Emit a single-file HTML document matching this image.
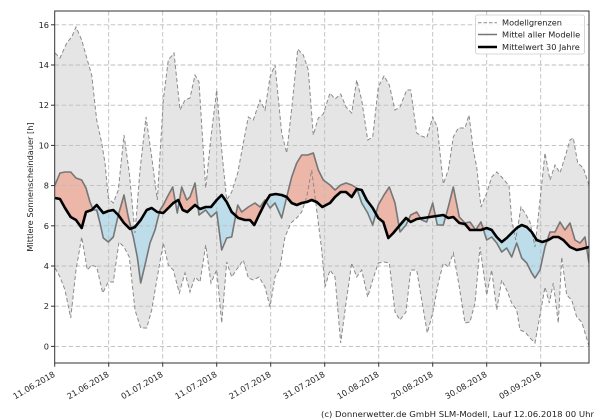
<!DOCTYPE html>
<html><head><meta charset="utf-8"><style>
html,body{margin:0;padding:0;background:#fff;}
svg{display:block;}
text{font-family:"DejaVu Sans","Liberation Sans",sans-serif;fill:#222;}
</style></head><body>
<svg width="600" height="420" viewBox="0 0 600 420" xmlns="http://www.w3.org/2000/svg">
<defs>
<clipPath id="plot"><rect x="54.7" y="11" width="534.3" height="352"/></clipPath>
<clipPath id="above"><polygon points="55,198 60,199 65,208 70.7,217 76,220 81.7,228 86,212 91.7,210 96.7,205 103.3,213 108.3,211 113.3,210 118.3,215 124,223 130,229 135,227 140.7,220 146.7,210 151.7,208 157.3,212 163.3,213 168.3,208 173.3,203 178.3,200 182.7,210 187.3,212 195,205 200,209 205.7,207 211,207 216.7,200 221.7,195 226.7,202 231.7,212 238.3,218 245,220 250,220 254.3,225 259,215 265,203 270,195 275.7,194 281.7,195 286.7,197 291.7,203 296.7,205 301.7,203 306.7,202 311.7,200 316.7,202 322.3,207 330,203 335,197 340.7,192 346,192 351.7,197 356.7,189 361.7,190 366.7,200 372.7,208 378.3,218 383.3,222 388.3,238 393.3,233 400,225 406,218 410.7,222 416.7,219 423.3,218 430,217 436.7,216 443.3,215 448.3,218 453.3,217 459.3,223 465,224 470,230 475.7,230 481,230 486.7,228 491.7,230 496.7,237 501.7,242 506.7,238 511.7,233 516.7,228 521.7,225 526.7,227 531.7,232 536.7,240 542.3,242 548.3,240 553.3,237 558.3,237 563.3,240 570,247 576.7,250 581.7,249 589,247 589,0 55,0"/></clipPath>
<clipPath id="below"><polygon points="55,198 60,199 65,208 70.7,217 76,220 81.7,228 86,212 91.7,210 96.7,205 103.3,213 108.3,211 113.3,210 118.3,215 124,223 130,229 135,227 140.7,220 146.7,210 151.7,208 157.3,212 163.3,213 168.3,208 173.3,203 178.3,200 182.7,210 187.3,212 195,205 200,209 205.7,207 211,207 216.7,200 221.7,195 226.7,202 231.7,212 238.3,218 245,220 250,220 254.3,225 259,215 265,203 270,195 275.7,194 281.7,195 286.7,197 291.7,203 296.7,205 301.7,203 306.7,202 311.7,200 316.7,202 322.3,207 330,203 335,197 340.7,192 346,192 351.7,197 356.7,189 361.7,190 366.7,200 372.7,208 378.3,218 383.3,222 388.3,238 393.3,233 400,225 406,218 410.7,222 416.7,219 423.3,218 430,217 436.7,216 443.3,215 448.3,218 453.3,217 459.3,223 465,224 470,230 475.7,230 481,230 486.7,228 491.7,230 496.7,237 501.7,242 506.7,238 511.7,233 516.7,228 521.7,225 526.7,227 531.7,232 536.7,240 542.3,242 548.3,240 553.3,237 558.3,237 563.3,240 570,247 576.7,250 581.7,249 589,247 589,420 55,420"/></clipPath>
</defs>

<g clip-path="url(#plot)">
<!-- band -->
<polygon fill="#e5e5e5" points="55,53 60,58 66.7,43 71.7,37 76,27 81.7,40 87.3,60 91.7,75 96.7,120 101.7,143 105,163 108.3,198 113.3,203 118.3,190 124,135 129.3,173 135,233 140,170 146,117 151.7,157 157.3,200 163.3,100 168.3,60 174,53 180,110 185,100 190,98 195,75 199,82 205.7,188 211,137 216.7,90 221.7,150 226.7,200 231.7,192 237.7,173 243.3,143 248.3,117 253.3,120 260,100 265,110 270,77 275,65 281.7,133 286.7,153 292.3,103 297.7,49 303.3,55 308.3,70 313.3,135 318.3,118 323.3,114 330,93 335,99 340.7,94 346,107 351.7,113 356.7,80 361.7,100 367.7,140 372.7,137 378.3,87 384,76 389.3,85 395,110 400,107 406.7,90 410.7,90 416.7,133 421.7,136 426.7,138 432.7,117 437.3,127 443.3,184 448.3,170 453.3,137 458.3,128 465,128 469,115 473.3,150 476.7,167 481,207 486.7,193 491.7,177 496.7,172 501.7,177 506.7,183 509,185 511.7,220 515.7,240 521,207 525,213 530,222 535,247 540,200 545,153 550,180 555,165 560,173 565,157 570,140 573.3,138 577.7,163 583.3,168 589,185 589,346 581.7,322 576.7,317 571.7,300 566.7,295 561.7,257 558.3,323 553.3,283 549.3,303 545,287 540,315 535,343 530,338 525,332 520,330 516.7,310 511.7,303 506.7,290 501.7,280 496.7,310 491.7,270 486.7,295 480,247 475,303 470,322 465,323 459.3,287 453.3,253 448.3,267 443.3,263 438.3,283 432.7,313 427.3,333 421.7,300 416.7,270 410.7,270 406,312 400,320 395,312 389.3,263 384,262 378.3,263 372.7,280 367.7,297 361.7,270 356.7,277 351.7,263 346,303 340.7,343 335,277 330,270 325,287 321.7,250 316.7,210 311.7,170 306.7,197 301.7,212 296.7,218 291,223 285,237 280,267 275,277 270,307 265,287 259,277 253.3,280 248.3,278 243.3,260 237.7,268 231.7,277 226.7,262 221.7,323 216.7,270 211,283 205.7,245 200,282 195,277 190,292 185,273 179.3,293 173.3,270 168.3,265 163.3,243 157.3,277 151.7,310 146.7,328 140.7,328 135,310 129.3,257 124,247 119,242 113.3,282 108.3,282 102.7,293 96.7,267 91.7,265 87.3,270 81.7,237 76,270 70.7,318 65,290 60,277 55,268"/>

<!-- diff fills -->
<g id="diff">
<polygon clip-path="url(#above)" fill="#ecb6a9" points="55,185 60,173 65,172 70.7,172 76,178 81.7,180 86,188 90,202 93.3,210 96.7,210 100,223 103.3,238 108.3,242 113.3,237 118.3,215 124,195 128.3,217 133.3,237 137.3,257 140.7,283 145,265 150,243 155,230 160,210 163.3,205 167.3,197 172.7,187 177.3,213 181.7,187 186.7,200 190,197 195,183 199,215 205.7,210 211,217 216.7,212 221.7,250 226.7,238 231.7,237 237.7,205 241.7,212 248.3,207 255,203 260,207 265,200 270,208 275,203 281.7,218 286.7,197 291.7,177 296.7,163 301.7,155 307.7,155 313.3,153 318.3,170 323.3,180 330,185 335,190 340.7,185 346,183 351.7,185 356.7,188 361.7,203 367.7,213 372.7,225 378.3,205 384,195 389.3,187 395,203 400,232 406,225 410.7,215 416.7,212 421.7,220 426.7,222 432.7,203 437.3,225 443.3,225 448.3,207 453.3,187 459.3,217 465,223 470,222 475.7,230 481,222 486.7,240 491.7,237 496.7,243 501.7,252 506.7,248 511.7,257 516.7,243 521.7,258 526.7,263 531.7,273 535,278 540,270 545,247 550,232 555,232 560,222 565,230 570,223 575,240 580,243 585,237 589,263 589,247 581.7,249 576.7,250 570,247 563.3,240 558.3,237 553.3,237 548.3,240 542.3,242 536.7,240 531.7,232 526.7,227 521.7,225 516.7,228 511.7,233 506.7,238 501.7,242 496.7,237 491.7,230 486.7,228 481,230 475.7,230 470,230 465,224 459.3,223 453.3,217 448.3,218 443.3,215 436.7,216 430,217 423.3,218 416.7,219 410.7,222 406,218 400,225 393.3,233 388.3,238 383.3,222 378.3,218 372.7,208 366.7,200 361.7,190 356.7,189 351.7,197 346,192 340.7,192 335,197 330,203 322.3,207 316.7,202 311.7,200 306.7,202 301.7,203 296.7,205 291.7,203 286.7,197 281.7,195 275.7,194 270,195 265,203 259,215 254.3,225 250,220 245,220 238.3,218 231.7,212 226.7,202 221.7,195 216.7,200 211,207 205.7,207 200,209 195,205 187.3,212 182.7,210 178.3,200 173.3,203 168.3,208 163.3,213 157.3,212 151.7,208 146.7,210 140.7,220 135,227 130,229 124,223 118.3,215 113.3,210 108.3,211 103.3,213 96.7,205 91.7,210 86,212 81.7,228 76,220 70.7,217 65,208 60,199 55,198"/>
<polygon clip-path="url(#below)" fill="#bcdde9" points="55,185 60,173 65,172 70.7,172 76,178 81.7,180 86,188 90,202 93.3,210 96.7,210 100,223 103.3,238 108.3,242 113.3,237 118.3,215 124,195 128.3,217 133.3,237 137.3,257 140.7,283 145,265 150,243 155,230 160,210 163.3,205 167.3,197 172.7,187 177.3,213 181.7,187 186.7,200 190,197 195,183 199,215 205.7,210 211,217 216.7,212 221.7,250 226.7,238 231.7,237 237.7,205 241.7,212 248.3,207 255,203 260,207 265,200 270,208 275,203 281.7,218 286.7,197 291.7,177 296.7,163 301.7,155 307.7,155 313.3,153 318.3,170 323.3,180 330,185 335,190 340.7,185 346,183 351.7,185 356.7,188 361.7,203 367.7,213 372.7,225 378.3,205 384,195 389.3,187 395,203 400,232 406,225 410.7,215 416.7,212 421.7,220 426.7,222 432.7,203 437.3,225 443.3,225 448.3,207 453.3,187 459.3,217 465,223 470,222 475.7,230 481,222 486.7,240 491.7,237 496.7,243 501.7,252 506.7,248 511.7,257 516.7,243 521.7,258 526.7,263 531.7,273 535,278 540,270 545,247 550,232 555,232 560,222 565,230 570,223 575,240 580,243 585,237 589,263 589,247 581.7,249 576.7,250 570,247 563.3,240 558.3,237 553.3,237 548.3,240 542.3,242 536.7,240 531.7,232 526.7,227 521.7,225 516.7,228 511.7,233 506.7,238 501.7,242 496.7,237 491.7,230 486.7,228 481,230 475.7,230 470,230 465,224 459.3,223 453.3,217 448.3,218 443.3,215 436.7,216 430,217 423.3,218 416.7,219 410.7,222 406,218 400,225 393.3,233 388.3,238 383.3,222 378.3,218 372.7,208 366.7,200 361.7,190 356.7,189 351.7,197 346,192 340.7,192 335,197 330,203 322.3,207 316.7,202 311.7,200 306.7,202 301.7,203 296.7,205 291.7,203 286.7,197 281.7,195 275.7,194 270,195 265,203 259,215 254.3,225 250,220 245,220 238.3,218 231.7,212 226.7,202 221.7,195 216.7,200 211,207 205.7,207 200,209 195,205 187.3,212 182.7,210 178.3,200 173.3,203 168.3,208 163.3,213 157.3,212 151.7,208 146.7,210 140.7,220 135,227 130,229 124,223 118.3,215 113.3,210 108.3,211 103.3,213 96.7,205 91.7,210 86,212 81.7,228 76,220 70.7,217 65,208 60,199 55,198"/>
</g>

<!-- grid -->
<g stroke="#bdbdbd" stroke-width="0.9" stroke-dasharray="4.5,2.5" fill="none">
<line x1="54.7" x2="589" y1="346.4" y2="346.4"/>
<line x1="54.7" x2="589" y1="306.2" y2="306.2"/>
<line x1="54.7" x2="589" y1="266" y2="266"/>
<line x1="54.7" x2="589" y1="225.8" y2="225.8"/>
<line x1="54.7" x2="589" y1="185.6" y2="185.6"/>
<line x1="54.7" x2="589" y1="145.4" y2="145.4"/>
<line x1="54.7" x2="589" y1="105.2" y2="105.2"/>
<line x1="54.7" x2="589" y1="65" y2="65"/>
<line x1="54.7" x2="589" y1="24.8" y2="24.8"/>
<line y1="11" y2="363" x1="108.7" x2="108.7"/>
<line y1="11" y2="363" x1="162.7" x2="162.7"/>
<line y1="11" y2="363" x1="216.7" x2="216.7"/>
<line y1="11" y2="363" x1="270.7" x2="270.7"/>
<line y1="11" y2="363" x1="324.7" x2="324.7"/>
<line y1="11" y2="363" x1="378.7" x2="378.7"/>
<line y1="11" y2="363" x1="432.7" x2="432.7"/>
<line y1="11" y2="363" x1="486.7" x2="486.7"/>
<line y1="11" y2="363" x1="540.7" x2="540.7"/>
</g>

<!-- band edges -->
<polyline fill="none" stroke="#8a8a8a" stroke-width="1" stroke-dasharray="4,2.5" points="55,53 60,58 66.7,43 71.7,37 76,27 81.7,40 87.3,60 91.7,75 96.7,120 101.7,143 105,163 108.3,198 113.3,203 118.3,190 124,135 129.3,173 135,233 140,170 146,117 151.7,157 157.3,200 163.3,100 168.3,60 174,53 180,110 185,100 190,98 195,75 199,82 205.7,188 211,137 216.7,90 221.7,150 226.7,200 231.7,192 237.7,173 243.3,143 248.3,117 253.3,120 260,100 265,110 270,77 275,65 281.7,133 286.7,153 292.3,103 297.7,49 303.3,55 308.3,70 313.3,135 318.3,118 323.3,114 330,93 335,99 340.7,94 346,107 351.7,113 356.7,80 361.7,100 367.7,140 372.7,137 378.3,87 384,76 389.3,85 395,110 400,107 406.7,90 410.7,90 416.7,133 421.7,136 426.7,138 432.7,117 437.3,127 443.3,184 448.3,170 453.3,137 458.3,128 465,128 469,115 473.3,150 476.7,167 481,207 486.7,193 491.7,177 496.7,172 501.7,177 506.7,183 509,185 511.7,220 515.7,240 521,207 525,213 530,222 535,247 540,200 545,153 550,180 555,165 560,173 565,157 570,140 573.3,138 577.7,163 583.3,168 589,185"/>
<polyline fill="none" stroke="#8a8a8a" stroke-width="1" stroke-dasharray="4,2.5" points="55,268 60,277 65,290 70.7,318 76,270 81.7,237 87.3,270 91.7,265 96.7,267 102.7,293 108.3,282 113.3,282 119,242 124,247 129.3,257 135,310 140.7,328 146.7,328 151.7,310 157.3,277 163.3,243 168.3,265 173.3,270 179.3,293 185,273 190,292 195,277 200,282 205.7,245 211,283 216.7,270 221.7,323 226.7,262 231.7,277 237.7,268 243.3,260 248.3,278 253.3,280 259,277 265,287 270,307 275,277 280,267 285,237 291,223 296.7,218 301.7,212 306.7,197 311.7,170 316.7,210 321.7,250 325,287 330,270 335,277 340.7,343 346,303 351.7,263 356.7,277 361.7,270 367.7,297 372.7,280 378.3,263 384,262 389.3,263 395,312 400,320 406,312 410.7,270 416.7,270 421.7,300 427.3,333 432.7,313 438.3,283 443.3,263 448.3,267 453.3,253 459.3,287 465,323 470,322 475,303 480,247 486.7,295 491.7,270 496.7,310 501.7,280 506.7,290 511.7,303 516.7,310 520,330 525,332 530,338 535,343 540,315 545,287 549.3,303 553.3,283 558.3,323 561.7,257 566.7,295 571.7,300 576.7,317 581.7,322 589,346"/>

<!-- mean of models -->
<polyline fill="none" stroke="#767676" stroke-width="1.6" stroke-linejoin="round" points="55,185 60,173 65,172 70.7,172 76,178 81.7,180 86,188 90,202 93.3,210 96.7,210 100,223 103.3,238 108.3,242 113.3,237 118.3,215 124,195 128.3,217 133.3,237 137.3,257 140.7,283 145,265 150,243 155,230 160,210 163.3,205 167.3,197 172.7,187 177.3,213 181.7,187 186.7,200 190,197 195,183 199,215 205.7,210 211,217 216.7,212 221.7,250 226.7,238 231.7,237 237.7,205 241.7,212 248.3,207 255,203 260,207 265,200 270,208 275,203 281.7,218 286.7,197 291.7,177 296.7,163 301.7,155 307.7,155 313.3,153 318.3,170 323.3,180 330,185 335,190 340.7,185 346,183 351.7,185 356.7,188 361.7,203 367.7,213 372.7,225 378.3,205 384,195 389.3,187 395,203 400,232 406,225 410.7,215 416.7,212 421.7,220 426.7,222 432.7,203 437.3,225 443.3,225 448.3,207 453.3,187 459.3,217 465,223 470,222 475.7,230 481,222 486.7,240 491.7,237 496.7,243 501.7,252 506.7,248 511.7,257 516.7,243 521.7,258 526.7,263 531.7,273 535,278 540,270 545,247 550,232 555,232 560,222 565,230 570,223 575,240 580,243 585,237 589,263"/>

<!-- 30-year mean -->
<polyline fill="none" stroke="#000" stroke-width="2.6" stroke-linejoin="round" points="55,198 60,199 65,208 70.7,217 76,220 81.7,228 86,212 91.7,210 96.7,205 103.3,213 108.3,211 113.3,210 118.3,215 124,223 130,229 135,227 140.7,220 146.7,210 151.7,208 157.3,212 163.3,213 168.3,208 173.3,203 178.3,200 182.7,210 187.3,212 195,205 200,209 205.7,207 211,207 216.7,200 221.7,195 226.7,202 231.7,212 238.3,218 245,220 250,220 254.3,225 259,215 265,203 270,195 275.7,194 281.7,195 286.7,197 291.7,203 296.7,205 301.7,203 306.7,202 311.7,200 316.7,202 322.3,207 330,203 335,197 340.7,192 346,192 351.7,197 356.7,189 361.7,190 366.7,200 372.7,208 378.3,218 383.3,222 388.3,238 393.3,233 400,225 406,218 410.7,222 416.7,219 423.3,218 430,217 436.7,216 443.3,215 448.3,218 453.3,217 459.3,223 465,224 470,230 475.7,230 481,230 486.7,228 491.7,230 496.7,237 501.7,242 506.7,238 511.7,233 516.7,228 521.7,225 526.7,227 531.7,232 536.7,240 542.3,242 548.3,240 553.3,237 558.3,237 563.3,240 570,247 576.7,250 581.7,249 589,247"/>
</g>

<!-- axes frame -->
<rect x="54.7" y="11" width="534.3" height="352" fill="none" stroke="#333" stroke-width="1"/>

<!-- y ticks -->
<g stroke="#333" stroke-width="1">
<line x1="51" x2="54.7" y1="346.4" y2="346.4"/><line x1="51" x2="54.7" y1="306.2" y2="306.2"/><line x1="51" x2="54.7" y1="266" y2="266"/><line x1="51" x2="54.7" y1="225.8" y2="225.8"/><line x1="51" x2="54.7" y1="185.6" y2="185.6"/><line x1="51" x2="54.7" y1="145.4" y2="145.4"/><line x1="51" x2="54.7" y1="105.2" y2="105.2"/><line x1="51" x2="54.7" y1="65" y2="65"/><line x1="51" x2="54.7" y1="24.8" y2="24.8"/>
<line y1="363" y2="366.7" x1="54.7" x2="54.7"/><line y1="363" y2="366.7" x1="108.7" x2="108.7"/><line y1="363" y2="366.7" x1="162.7" x2="162.7"/><line y1="363" y2="366.7" x1="216.7" x2="216.7"/><line y1="363" y2="366.7" x1="270.7" x2="270.7"/><line y1="363" y2="366.7" x1="324.7" x2="324.7"/><line y1="363" y2="366.7" x1="378.7" x2="378.7"/><line y1="363" y2="366.7" x1="432.7" x2="432.7"/><line y1="363" y2="366.7" x1="486.7" x2="486.7"/><line y1="363" y2="366.7" x1="540.7" x2="540.7"/>
</g>
<g font-size="8.2" text-anchor="end">
<text x="49" y="349.4">0</text><text x="49" y="309.2">2</text><text x="49" y="269">4</text><text x="49" y="228.8">6</text><text x="49" y="188.6">8</text><text x="49" y="148.4">10</text><text x="49" y="108.2">12</text><text x="49" y="68">14</text><text x="49" y="27.8">16</text>
</g>
<text font-size="8.2" text-anchor="middle" transform="translate(33,187) rotate(-90)">Mittlere Sonnenscheindauer [h]</text>

<!-- x tick labels -->
<g font-size="8.2" text-anchor="end">
<text transform="translate(55.7,376) rotate(-30)">11.06.2018</text>
<text transform="translate(109.7,376) rotate(-30)">21.06.2018</text>
<text transform="translate(163.7,376) rotate(-30)">01.07.2018</text>
<text transform="translate(217.7,376) rotate(-30)">11.07.2018</text>
<text transform="translate(271.7,376) rotate(-30)">21.07.2018</text>
<text transform="translate(325.7,376) rotate(-30)">31.07.2018</text>
<text transform="translate(379.7,376) rotate(-30)">10.08.2018</text>
<text transform="translate(433.7,376) rotate(-30)">20.08.2018</text>
<text transform="translate(487.7,376) rotate(-30)">30.08.2018</text>
<text transform="translate(541.7,376) rotate(-30)">09.09.2018</text>
</g>

<!-- legend -->
<rect x="475.5" y="15" width="109" height="39" rx="2" fill="#fff" fill-opacity="0.85" stroke="#cccccc" stroke-width="0.8"/>
<line x1="478" x2="497" y1="22.7" y2="22.7" stroke="#8a8a8a" stroke-width="1" stroke-dasharray="3.5,2"/>
<line x1="478" x2="497" y1="34.5" y2="34.5" stroke="#767676" stroke-width="1.6"/>
<line x1="478" x2="497" y1="47" y2="47" stroke="#000" stroke-width="2.6"/>
<g font-size="8.2">
<text x="502" y="25.7">Modellgrenzen</text>
<text x="502" y="37.5">Mittel aller Modelle</text>
<text x="502" y="50">Mittelwert 30 Jahre</text>
</g>

<text x="321" y="417" font-size="8.2" textLength="273" lengthAdjust="spacingAndGlyphs">(c) Donnerwetter.de GmbH SLM-Modell, Lauf 12.06.2018 00 Uhr</text>
</svg>
</body></html>
